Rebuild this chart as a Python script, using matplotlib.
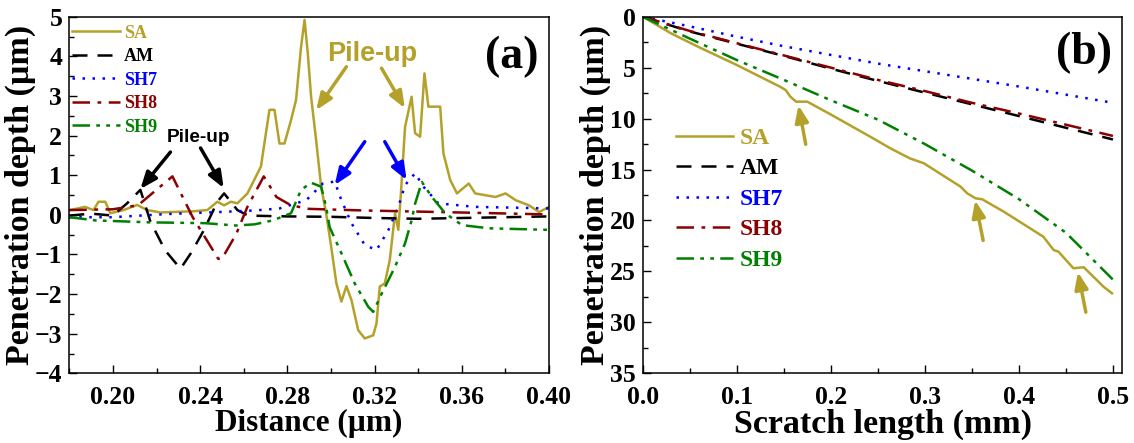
import numpy as np
import matplotlib
matplotlib.use("Agg")
import matplotlib.pyplot as plt
from matplotlib.ticker import MultipleLocator

plt.rcParams['font.family'] = ['Liberation Serif', 'DejaVu Serif']
plt.rcParams['font.weight'] = 'bold'

# ---- panel (a): cross-section profiles ----
sa_x = [0.1803, 0.1872, 0.1911, 0.1934, 0.1965, 0.1988, 0.2049, 0.2111, 0.2157, 0.2218,
        0.2372, 0.2433, 0.2479, 0.2510, 0.2541, 0.2571, 0.2617, 0.2648, 0.2679, 0.2718,
        0.2741, 0.2764, 0.2787, 0.2817, 0.2840, 0.2863, 0.2879, 0.2894, 0.2909, 0.2932,
        0.2955, 0.2978, 0.3001, 0.3025, 0.3048, 0.3071, 0.3094, 0.3125, 0.3155, 0.3194,
        0.3209, 0.3224, 0.3247, 0.3270, 0.3294, 0.3309, 0.3321, 0.3340, 0.3370, 0.3386,
        0.3409, 0.3429, 0.3447, 0.3463, 0.3501, 0.3516, 0.3547, 0.3578, 0.3632, 0.3662,
        0.3755, 0.3801, 0.3847, 0.3908, 0.3955, 0.4000]
sa_y = [0.12, 0.20, 0.12, 0.33, 0.33, 0.04, 0.12, 0.25, 0.12, 0.06,
        0.09, 0.12, 0.33, 0.24, 0.33, 0.29, 0.54, 0.88, 1.22, 2.65,
        2.65, 1.80, 1.80, 2.39, 2.90, 4.24, 4.92, 4.07, 2.98, 1.89,
        0.71, 0.04, -0.80, -1.73, -2.19, -1.80, -2.15, -2.91, -3.12, -3.04,
        -2.74, -1.81, -1.73, -1.14, 0.04, -0.38, 0.54, 2.22, 2.98, 2.06,
        1.97, 3.57, 2.73, 2.73, 2.73, 1.55, 0.88, 0.54, 0.79, 0.54,
        0.45, 0.54, 0.37, 0.24, 0.07, 0.20]

am_x = [0.18, 0.19, 0.20, 0.2065, 0.2126, 0.2172, 0.224, 0.231, 0.236, 0.2418,
        0.2479, 0.251, 0.2571, 0.262, 0.28, 0.30, 0.32, 0.34, 0.36, 0.38, 0.40]
am_y = [-0.02, 0.03, -0.02, 0.29, 0.63, -0.17, -0.90, -1.36, -0.95, -0.38,
        0.33, 0.54, 0.12, -0.02, -0.04, -0.05, -0.08, -0.10, -0.08, -0.06, -0.04]

sh7_x = [0.18, 0.20, 0.225, 0.2483, 0.265, 0.2764, 0.2887, 0.2963, 0.3017, 0.3048,
         0.3094, 0.3155, 0.3209, 0.3263, 0.3309, 0.3340, 0.3386, 0.3424, 0.3493, 0.3662,
         0.3850, 0.4000]
sh7_y = [-0.06, -0.06, 0.02, 0.07, 0.11, 0.16, 0.37, 0.79, 0.84, 0.37,
         -0.21, -0.76, -0.89, -0.39, 0.20, 0.75, 1.05, 0.71, 0.29, 0.20,
         0.18, 0.16]

sh8_x = [0.18, 0.20, 0.2115, 0.2273, 0.2366, 0.2483, 0.2500, 0.2566, 0.2616, 0.2692,
         0.2750, 0.2817, 0.29, 0.315, 0.35, 0.40]
sh8_y = [0.12, 0.14, 0.24, 0.97, -0.06, -1.11, -1.11, -0.48, 0.19, 0.97,
         0.45, 0.24, 0.15, 0.11, 0.07, 0.01]

sh9_x = [0.18, 0.1918, 0.2169, 0.2420, 0.2566, 0.2650, 0.2734, 0.2817, 0.2863, 0.2909,
         0.2955, 0.2978, 0.2994, 0.3048, 0.3109, 0.3171, 0.3194, 0.3232, 0.3294, 0.3340,
         0.3370, 0.3386, 0.3417, 0.3463, 0.3524, 0.3601, 0.3724, 0.4000]
sh9_y = [-0.06, -0.14, -0.19, -0.21, -0.27, -0.24, -0.14, 0.04, 0.63, 0.81,
         0.71, 0.20, -0.31, -0.97, -1.73, -2.32, -2.45, -2.00, -1.31, -0.72,
         -0.14, 0.28, 0.83, 0.45, 0.04, -0.26, -0.34, -0.38]

# ---- panel (b): scratch depth ----
len_x = [0, 0.05, 0.10, 0.15, 0.20, 0.25, 0.30, 0.35, 0.40, 0.45, 0.50]
am_d = [0, 1.45, 2.65, 3.85, 5.10, 6.30, 7.45, 8.60, 9.75, 10.90, 12.05]
sh7_d = [0, 0.95, 1.96, 2.90, 3.75, 4.60, 5.35, 6.10, 6.85, 7.65, 8.45]
sh8_d = [0, 1.40, 2.60, 3.80, 5.00, 6.20, 7.30, 8.45, 9.50, 10.60, 11.70]
sh9_d = [0, 2.15, 4.25, 6.20, 8.20, 10.10, 12.50, 15.10, 17.90, 21.20, 25.80]
sa_lx = [0, 0.03, 0.06, 0.10, 0.146, 0.152, 0.157, 0.163, 0.175, 0.20, 0.242, 0.263, 0.284,
         0.299, 0.338, 0.345, 0.354, 0.361, 0.384, 0.426, 0.437, 0.442, 0.458, 0.469,
         0.490, 0.499]
sa_d = [0, 1.63, 3.0, 4.74, 6.87, 7.2, 7.85, 8.34, 8.34, 9.6, 11.78, 12.9, 13.9,
        14.39, 16.68, 17.33, 17.83, 17.92, 19.14, 21.59, 22.9, 23.06, 24.69, 24.59,
        26.5, 27.15]

names = ['SA', 'AM', 'SH7', 'SH8', 'SH9']
colors = ['#B4A12A', 'black', 'blue', '#8B0000', 'green']
styles = ['-', (0, (6, 4)), (0, (1, 3)), (0, (7, 3, 1.5, 3)), (0, (7, 2.5, 1.5, 2.5, 1.5, 2.5))]

fig = plt.figure(figsize=(11.34, 4.43), dpi=100)
ax1 = fig.add_axes([0.0611, 0.1573, 0.4230, 0.8050])
ax2 = fig.add_axes([0.5668, 0.1573, 0.4229, 0.8050])

prof = [(sa_x, sa_y), (am_x, am_y), (sh7_x, sh7_y), (sh8_x, sh8_y), (sh9_x, sh9_y)]
for (x, y), n, c, s in zip(prof, names, colors, styles):
    ax1.plot(x, y, color=c, ls=s, lw=1.8, label=n)

depth = [(sa_lx, sa_d), (len_x, am_d), (len_x, sh7_d), (len_x, sh8_d), (len_x, sh9_d)]
for (x, y), n, c, s in zip(depth, names, colors, styles):
    ax2.plot(x, y, color=c, ls=s, lw=1.8, label=n)

ax1.set_xlim(0.18, 0.40)
ax1.set_ylim(-4, 5)
ax1.xaxis.set_minor_locator(MultipleLocator(0.02))
ax1.yaxis.set_major_locator(MultipleLocator(1))
ax1.yaxis.set_minor_locator(MultipleLocator(0.5))
ax1.set_xticks([0.20, 0.24, 0.28, 0.32, 0.36, 0.40])
ax1.set_xticklabels(['0.20', '0.24', '0.28', '0.32', '0.36', '0.40'])
ax1.set_xlabel('Distance (µm)', fontsize=22.5, fontweight='bold', labelpad=0)
ax1.set_ylabel('Penetration depth (µm)', fontsize=24.5, fontweight='bold', labelpad=-1)

ax2.set_xlim(0, 0.51)
ax2.set_ylim(35, 0)
ax2.xaxis.set_major_locator(MultipleLocator(0.1))
ax2.xaxis.set_minor_locator(MultipleLocator(0.05))
ax2.yaxis.set_major_locator(MultipleLocator(5))
ax2.yaxis.set_minor_locator(MultipleLocator(2.5))
ax2.set_xlabel('Scratch length (mm)', fontsize=24.5, fontweight='bold', labelpad=0)
ax2.set_ylabel('Penetration depth (µm)', fontsize=24.5, fontweight='bold', labelpad=-1)

for ax in (ax1, ax2):
    ax.tick_params(which='both', direction='in', top=False, right=False, labelsize=18.5)
    ax.tick_params(axis='x', pad=9)
    ax.tick_params(axis='y', pad=5)
    ax.tick_params(which='major', length=6, width=1)
    ax.tick_params(which='minor', length=3.5, width=1)
    for sp in ax.spines.values():
        sp.set_linewidth(1.1)
    for lbl in ax.get_xticklabels() + ax.get_yticklabels():
        lbl.set_fontweight('bold')

leg1 = ax1.legend(loc='upper left', bbox_to_anchor=(0.005, 0.978), frameon=False, fontsize=13,
                  handlelength=2.7, handletextpad=0.2, labelspacing=0.36, borderpad=0, borderaxespad=0)
for t, c in zip(leg1.get_texts(), colors):
    t.set_color(c)

leg2 = ax2.legend(loc='upper left', bbox_to_anchor=(0.07, 0.69), frameon=False, fontsize=17,
                  handlelength=2.4, handletextpad=0.3, labelspacing=0.38, borderpad=0, borderaxespad=0)
for t, c in zip(leg2.get_texts(), colors):
    t.set_color(c)

ax1.text(0.383, 3.98, '(a)', fontsize=33, fontweight='bold', ha='center', va='center')
ax2.text(0.4695, 3.6, '(b)', fontsize=33, fontweight='bold', ha='center', va='center')

olive = colors[0]
sans = ['Liberation Sans', 'DejaVu Sans']
ax1.text(0.319, 4.05, 'Pile-up', color=olive, fontsize=19.5, fontweight='bold', family=sans,
         ha='center', va='center')
ax1.text(0.2391, 1.96, 'Pile-up', color='black', fontsize=13.7, fontweight='bold', family=sans,
         ha='center', va='center')

def arrow(ax, tail, tip, c):
    ax.annotate('', xy=tip, xytext=tail,
                arrowprops=dict(arrowstyle='-|>,head_length=1.0,head_width=0.4', color=c, lw=2.5,
                                shrinkA=0, shrinkB=0))

arrow(ax1, (0.2264, 1.585), (0.2126, 0.651), 'black')
arrow(ax1, (0.2402, 1.686), (0.2508, 0.676), 'black')
arrow(ax1, (0.3071, 3.738), (0.2932, 2.64), olive)
arrow(ax1, (0.3232, 3.70), (0.3339, 2.69), olive)
arrow(ax1, (0.3155, 1.845), (0.3017, 0.752), 'blue')
arrow(ax1, (0.3247, 1.845), (0.3347, 0.878), 'blue')

arrow(ax2, (0.1733, 12.52), (0.1656, 8.69), olive)
arrow(ax2, (0.362, 21.96), (0.3535, 18.03), olive)
arrow(ax2, (0.4712, 29.0), (0.4628, 25.07), olive)

fig.savefig('out.png', dpi=100)
